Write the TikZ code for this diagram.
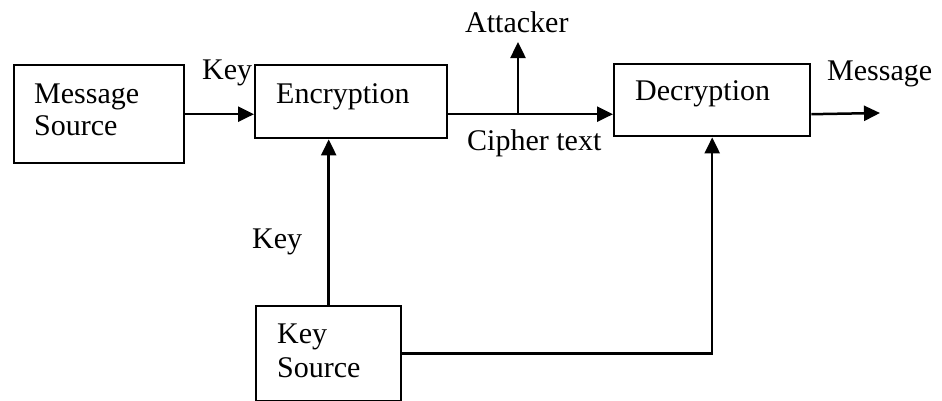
\documentclass[tikz,border=0pt]{standalone}
\usepackage{fontspec}
\setmainfont{Liberation Serif}
\usetikzlibrary{arrows.meta}
\begin{document}
\begin{tikzpicture}[x=1pt,y=-1pt,
  box/.style={draw, line width=2.4pt, inner sep=0pt, anchor=north west},
  lbl/.style={anchor=base west, inner sep=0pt, font=\fontsize{30}{32}\selectfont},
  conn/.style={line width=2.5pt},
  arr/.style={conn, -{Triangle[length=16pt,width=15pt]}}]
\useasboundingbox[fill=white] (0,0) rectangle (942,400);
% boxes
\node[box, minimum width=170pt, minimum height=98pt] (ms) at (13,64) {};
\node[box, minimum width=192pt, minimum height=73pt] (enc) at (254,64) {};
\node[box, minimum width=196pt, minimum height=72pt] (dec) at (613,63) {};
\node[box, minimum width=145pt, minimum height=95pt] (ks) at (255,305) {};
% texts
\node[lbl] (ms1) at (34,103) {Message};
\node[lbl] (ms2) at (34,135) {Source};
\node[lbl] (enct) at (276,103) {Encryption};
\node[lbl] (dect) at (635,100) {Decryption};
\node[lbl] (ks1) at (277,343) {Key};
\node[lbl] (ks2) at (277,377) {Source};
\node[lbl] (key1) at (202,79) {Key};
\node[lbl] (key2) at (252,248) {Key};
\node[lbl] (att) at (465,32) {Attacker};
\node[lbl] (cip) at (467,150) {Cipher text};
\node[lbl] (msg) at (827,80) {Message};
% free ends
\coordinate (tap) at (518,42);
\coordinate (mout) at (880,113);
% connectors
\draw[arr] (ms.east) -- (ms.east -| enc.west);
\draw[arr] (ms.east -| enc.east) -- (ms.east -| dec.west);
\draw[arr] (ms.east -| tap) -- (tap);
\draw[arr] (ms.east -| dec.east) -- (mout);
\draw[arr] (ks.north) -- (ks.north |- enc.south);
\draw[arr] (ks.east) -| (dec.south);
\end{tikzpicture}
\end{document}
